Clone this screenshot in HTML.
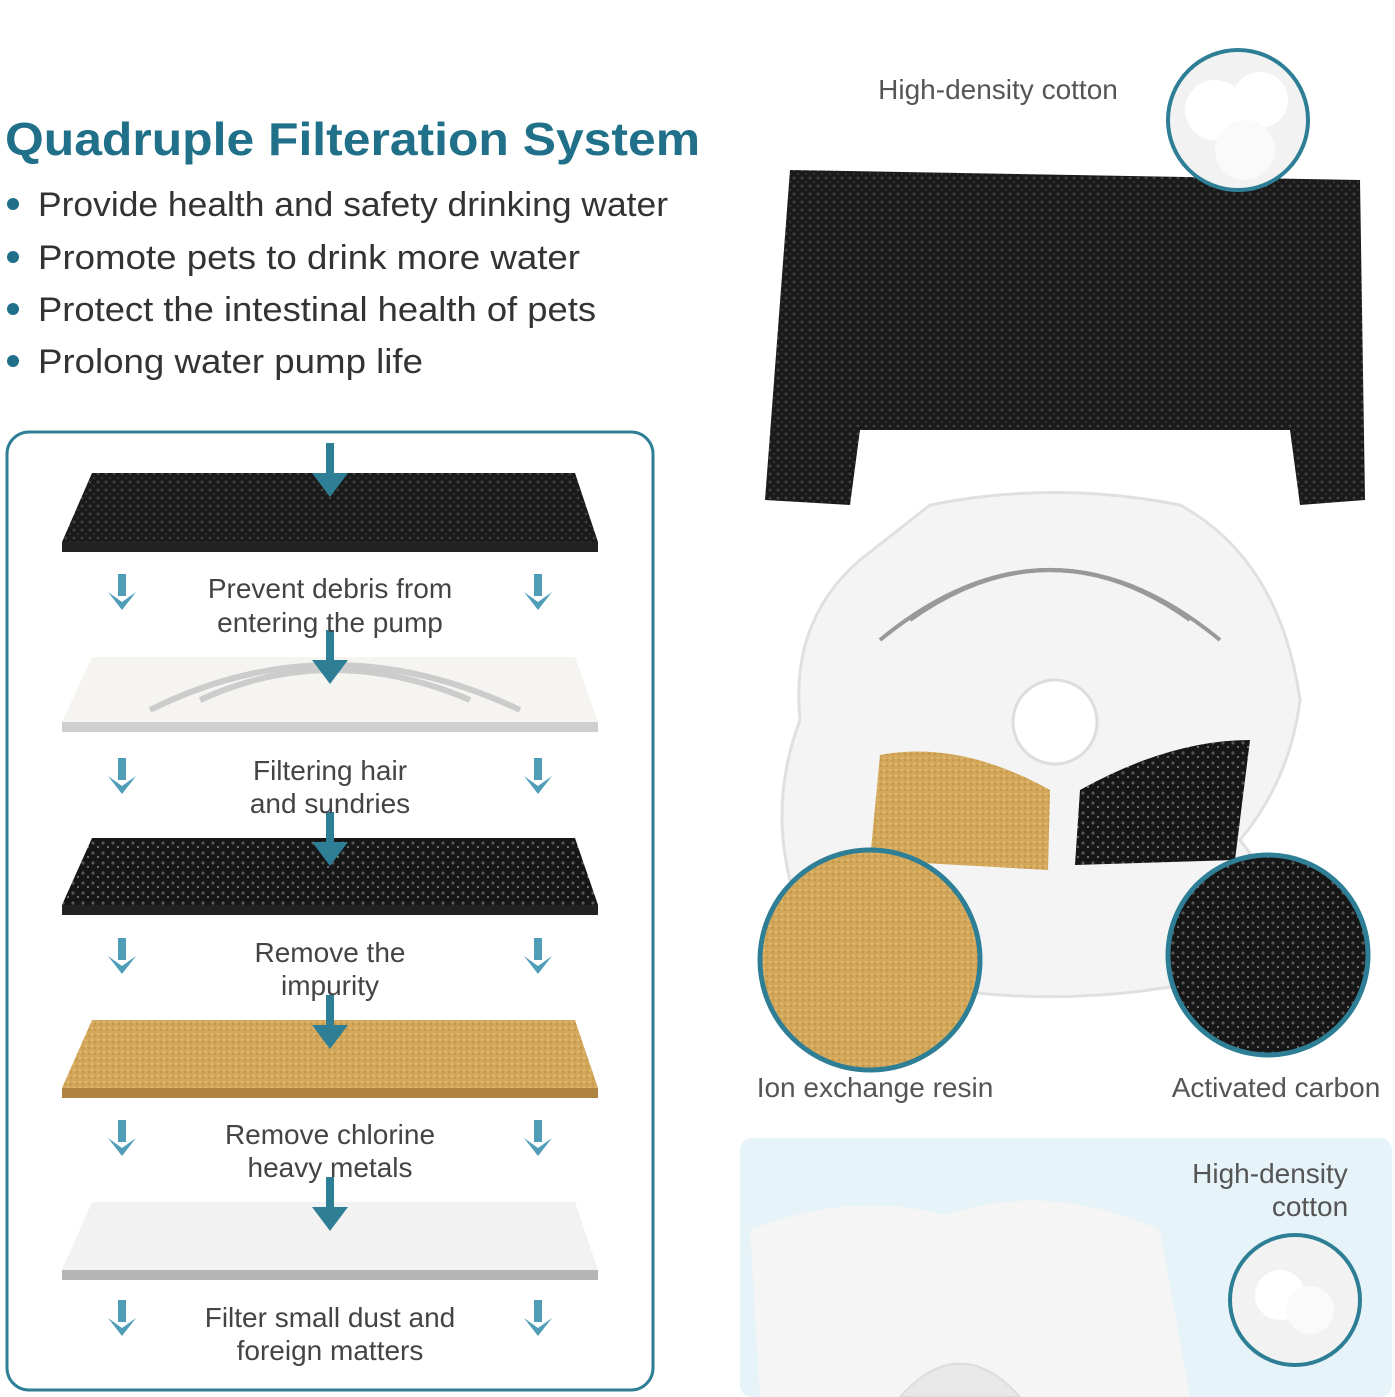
<!DOCTYPE html>
<html><head><meta charset="utf-8"><style>
html,body{margin:0;padding:0;background:#fff;}
body{width:1395px;height:1397px;overflow:hidden;position:relative;font-family:"Liberation Sans",sans-serif;}
</style></head><body>
<svg width="1395" height="1397" viewBox="0 0 1395 1397" xmlns="http://www.w3.org/2000/svg" style="position:absolute;left:0;top:0">
<defs>
<pattern id="foam" width="8" height="8" patternUnits="userSpaceOnUse"><rect width="8" height="8" fill="#1a1a1a"/><circle cx="2" cy="2" r="1.4" fill="#444"/><circle cx="6" cy="6" r="1.2" fill="#333"/></pattern>
<pattern id="carb" width="10" height="10" patternUnits="userSpaceOnUse"><rect width="10" height="10" fill="#161616"/><circle cx="3" cy="3" r="1.6" fill="#555"/><circle cx="8" cy="7" r="1.1" fill="#777"/></pattern>
<pattern id="resin" width="6" height="6" patternUnits="userSpaceOnUse"><rect width="6" height="6" fill="#d3a75a"/><circle cx="2" cy="2" r="1" fill="#e5c07e"/><circle cx="5" cy="4" r="0.9" fill="#b98b3e"/></pattern>
<g id="arr"><rect x="-4" y="0" width="8" height="22" fill="#4f9db6"/><path d="M-14 18 L0 36 L14 18 L0 28 Z" fill="#4f9db6"/></g>
<g id="big"><rect x="-4" y="0" width="8" height="40" fill="#2e7f96"/><path d="M-18 30 L0 54 L18 30 Z" fill="#2e7f96"/></g>
</defs>
<text x="5" y="155" font-size="46" font-weight="bold" fill="#1f7088" textLength="695" lengthAdjust="spacingAndGlyphs">Quadruple Filteration System</text>
<g font-size="34" fill="#333">
<circle cx="13" cy="204" r="6" fill="#1f7088"/><text x="38" y="216" textLength="630" lengthAdjust="spacingAndGlyphs">Provide health and safety drinking water</text>
<circle cx="13" cy="257" r="6" fill="#1f7088"/><text x="38" y="269" textLength="542" lengthAdjust="spacingAndGlyphs">Promote pets to drink more water</text>
<circle cx="13" cy="309" r="6" fill="#1f7088"/><text x="38" y="321" textLength="558" lengthAdjust="spacingAndGlyphs">Protect the intestinal health of pets</text>
<circle cx="13" cy="361" r="6" fill="#1f7088"/><text x="38" y="373" textLength="385" lengthAdjust="spacingAndGlyphs">Prolong water pump life</text>
</g>
<rect x="7" y="432" width="646" height="958" rx="22" fill="#fff" stroke="#2e7f96" stroke-width="3"/>
<polygon points="92,473 575,473 598,542 62,542" fill="url(#foam)"/><rect x="62" y="542" width="536" height="10" fill="#222"/>
<polygon points="92,657 575,657 598,722 62,722" fill="#f6f4f0"/><rect x="62" y="722" width="536" height="10" fill="#cfcfcf"/>
<g fill="none" stroke="#ccc" stroke-width="6"><path d="M150 710 Q330 620 520 710"/><path d="M200 700 Q330 640 470 700"/></g>
<polygon points="92,838 575,838 598,905 62,905" fill="url(#carb)"/><rect x="62" y="905" width="536" height="10" fill="#222"/>
<polygon points="92,1020 575,1020 598,1088 62,1088" fill="url(#resin)"/><rect x="62" y="1088" width="536" height="10" fill="#b08440"/>
<polygon points="92,1202 575,1202 598,1270 62,1270" fill="#f2f2f2"/><rect x="62" y="1270" width="536" height="10" fill="#b5b5b5"/>
<use href="#big" x="330" y="443"/><use href="#big" x="330" y="630"/><use href="#big" x="330" y="812"/><use href="#big" x="330" y="995"/><use href="#big" x="330" y="1177"/>
<g><use href="#arr" x="122" y="574"/><use href="#arr" x="538" y="574"/><use href="#arr" x="122" y="758"/><use href="#arr" x="538" y="758"/><use href="#arr" x="122" y="938"/><use href="#arr" x="538" y="938"/><use href="#arr" x="122" y="1120"/><use href="#arr" x="538" y="1120"/><use href="#arr" x="122" y="1300"/><use href="#arr" x="538" y="1300"/></g>
<g font-size="28" fill="#444" text-anchor="middle">
<text x="330" y="598">Prevent debris from</text><text x="330" y="632">entering the pump</text>
<text x="330" y="780">Filtering hair</text><text x="330" y="813">and sundries</text>
<text x="330" y="962">Remove the</text><text x="330" y="995">impurity</text>
<text x="330" y="1144">Remove chlorine</text><text x="330" y="1177">heavy metals</text>
<text x="330" y="1327">Filter small dust and</text><text x="330" y="1360">foreign matters</text>
</g>
<path d="M790 170 L1360 180 L1365 500 L1300 505 L1290 430 L860 430 L850 505 L765 500 Z" fill="url(#foam)"/>
<text x="998" y="99" font-size="28" fill="#555" text-anchor="middle">High-density cotton</text>
<circle cx="1238" cy="120" r="70" fill="#f2f2f2" stroke="#2e7f96" stroke-width="4"/>
<circle cx="1215" cy="110" r="30" fill="#fff"/><circle cx="1260" cy="100" r="28" fill="#fff"/><circle cx="1245" cy="150" r="30" fill="#fafafa"/>
<path d="M930 505 Q1055 480 1180 505 Q1280 560 1300 700 Q1290 780 1240 840 Q1290 900 1250 970 Q1100 1010 950 990 Q830 960 790 880 Q770 800 800 720 Q790 620 860 560 Z" fill="#f4f4f4" stroke="#e0e0e0" stroke-width="3"/>
<g fill="none" stroke="#999" stroke-width="4"><path d="M880 640 Q1050 500 1220 640"/><path d="M910 620 Q1050 520 1190 620"/><path d="M940 600 Q1050 540 1160 600"/></g>
<circle cx="1055" cy="722" r="42" fill="#fff" stroke="#ddd" stroke-width="3"/>
<path d="M880 755 Q960 740 1050 790 L1048 870 L870 860 Z" fill="url(#resin)"/>
<path d="M1080 790 Q1170 740 1250 740 L1235 860 L1075 865 Z" fill="url(#carb)"/>
<circle cx="870" cy="960" r="110" fill="url(#resin)" stroke="#2e7f96" stroke-width="5"/>
<circle cx="1268" cy="955" r="100" fill="url(#carb)" stroke="#2e7f96" stroke-width="5"/>
<text x="875" y="1097" font-size="28" fill="#555" text-anchor="middle">Ion exchange resin</text>
<text x="1276" y="1097" font-size="28" fill="#555" text-anchor="middle">Activated carbon</text>
<rect x="740" y="1138" width="652" height="259" rx="12" fill="#e6f3f8"/>
<path d="M750 1230 Q850 1190 945 1215 Q1050 1180 1160 1230 L1190 1397 L760 1397 Z" fill="#f5f5f5"/>
<path d="M900 1397 Q960 1330 1020 1397 Z" fill="#e8e8e8" stroke="#ddd" stroke-width="2"/>
<text x="1270" y="1183" font-size="28" fill="#555" text-anchor="middle">High-density</text>
<text x="1310" y="1216" font-size="28" fill="#555" text-anchor="middle">cotton</text>
<circle cx="1295" cy="1300" r="65" fill="#f2f2f2" stroke="#2e7f96" stroke-width="4"/>
<circle cx="1280" cy="1295" r="25" fill="#fff"/><circle cx="1310" cy="1310" r="24" fill="#fafafa"/>
</svg>
</body></html>
